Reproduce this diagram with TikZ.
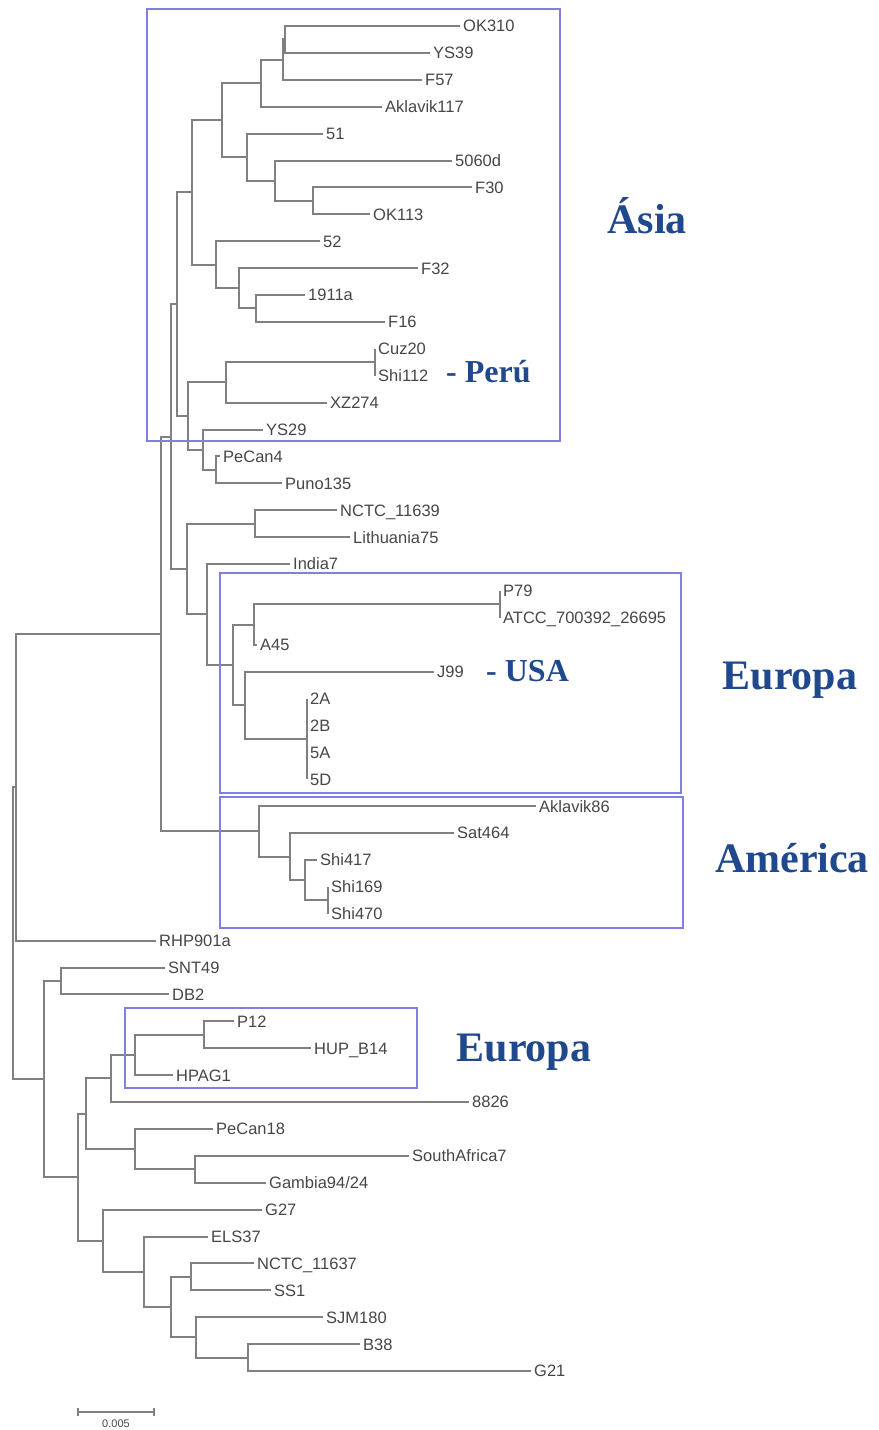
\documentclass[tikz,border=0pt]{standalone}
\usepackage{fontspec}
\setmainfont{Liberation Serif}
\setsansfont{Liberation Sans}
\definecolor{treeGray}{RGB}{128,128,128}
\definecolor{leafText}{RGB}{70,70,70}
\definecolor{cladeBox}{RGB}{128,128,224}
\definecolor{cladeBlue}{RGB}{31,73,140}

\begin{document}
\begin{tikzpicture}[x=1pt, y=-26.9pt,
    br/.style={draw=treeGray, line width=2pt},
    leaf/.style={anchor=west, inner xsep=3pt, inner ysep=0pt, text height=11.8pt, text depth=0pt,
                 font=\sffamily\fontsize{16.5}{16.5}\selectfont, text=leafText},
    region/.style={draw=cladeBox, line width=2pt},
    place/.style={anchor=base, inner sep=0pt, font=\bfseries\fontsize{42}{42}\selectfont, text=cladeBlue},
    country/.style={anchor=base west, inner sep=0pt, font=\bfseries\fontsize{32}{32}\selectfont, text=cladeBlue}
  ]
  \useasboundingbox (0,-0.9665) rectangle (878,52.193);

  % leaves
  \node[leaf] (OK310) at (460,0) {OK310};
  \node[leaf] (YS39) at (430,1) {YS39};
  \node[leaf] (F57) at (422,2) {F57};
  \node[leaf] (Aklavik117) at (382,3) {Aklavik117};
  \node[leaf] (s51) at (323,4) {51};
  \node[leaf] (s5060d) at (452,5) {5060d};
  \node[leaf] (F30) at (472,6) {F30};
  \node[leaf] (OK113) at (370,7) {OK113};
  \node[leaf] (s52) at (320,8) {52};
  \node[leaf] (F32) at (418,9) {F32};
  \node[leaf] (s1911a) at (305,10) {1911a};
  \node[leaf] (F16) at (385,11) {F16};
  \node[leaf] (Cuz20) at (375,12) {Cuz20};
  \node[leaf] (Shi112) at (375,13) {Shi112};
  \node[leaf] (XZ274) at (327,14) {XZ274};
  \node[leaf] (YS29) at (263,15) {YS29};
  \node[leaf] (PeCan4) at (220,16) {PeCan4};
  \node[leaf] (Puno135) at (282,17) {Puno135};
  \node[leaf] (NCTC11639) at (337,18) {NCTC\_11639};
  \node[leaf] (Lithuania75) at (350,19) {Lithuania75};
  \node[leaf] (India7) at (290,20) {India7};
  \node[leaf] (P79) at (500,21) {P79};
  \node[leaf] (ATCC) at (500,22) {ATCC\_700392\_26695};
  \node[leaf] (A45) at (257,23) {A45};
  \node[leaf] (J99) at (434,24) {J99};
  \node[leaf] (s2A) at (307,25) {2A};
  \node[leaf] (s2B) at (307,26) {2B};
  \node[leaf] (s5A) at (307,27) {5A};
  \node[leaf] (s5D) at (307,28) {5D};
  \node[leaf] (Aklavik86) at (536,29) {Aklavik86};
  \node[leaf] (Sat464) at (454,30) {Sat464};
  \node[leaf] (Shi417) at (317,31) {Shi417};
  \node[leaf] (Shi169) at (328,32) {Shi169};
  \node[leaf] (Shi470) at (328,33) {Shi470};
  \node[leaf] (RHP901a) at (156,34) {RHP901a};
  \node[leaf] (SNT49) at (165,35) {SNT49};
  \node[leaf] (DB2) at (169,36) {DB2};
  \node[leaf] (P12) at (234,37) {P12};
  \node[leaf] (HUPB14) at (311,38) {HUP\_B14};
  \node[leaf] (HPAG1) at (173,39) {HPAG1};
  \node[leaf] (s8826) at (469,40) {8826};
  \node[leaf] (PeCan18) at (213,41) {PeCan18};
  \node[leaf] (SouthAfrica7) at (409,42) {SouthAfrica7};
  \node[leaf] (Gambia) at (266,43) {Gambia94/24};
  \node[leaf] (G27) at (262,44) {G27};
  \node[leaf] (ELS37) at (208,45) {ELS37};
  \node[leaf] (NCTC11637) at (254,46) {NCTC\_11637};
  \node[leaf] (SS1) at (271,47) {SS1};
  \node[leaf] (SJM180) at (323,48) {SJM180};
  \node[leaf] (B38) at (360,49) {B38};
  \node[leaf] (G21) at (531,50) {G21};

  % inner nodes
  \coordinate (n1) at (285,0.5);
  \coordinate (n2) at (283,1.25);
  \coordinate (n3) at (261,2.125);
  \coordinate (n4) at (313,6.5);
  \coordinate (n5) at (275,5.75);
  \coordinate (n6) at (247,4.875);
  \coordinate (n7) at (222,3.5);
  \coordinate (n8) at (256,10.5);
  \coordinate (n9) at (239,9.75);
  \coordinate (n10) at (216,8.875);
  \coordinate (n11) at (192,6.1875);
  \coordinate (n12) at (375,12.5);
  \coordinate (n13) at (226,13.25);
  \coordinate (n14) at (216,16.5);
  \coordinate (n15) at (203,15.75);
  \coordinate (n16) at (188,14.5);
  \coordinate (n17) at (177,10.344);
  \coordinate (n18) at (255,18.5);
  \coordinate (n19) at (500,21.5);
  \coordinate (n20) at (254,22.25);
  \coordinate (n21) at (307,26.5);
  \coordinate (n22) at (245,25.25);
  \coordinate (n23) at (233,23.75);
  \coordinate (n24) at (207,21.875);
  \coordinate (n25) at (187,20.1875);
  \coordinate (n26) at (171,15.266);
  \coordinate (n27) at (328,32.5);
  \coordinate (n28) at (305,31.75);
  \coordinate (n29) at (290,30.875);
  \coordinate (n30) at (259,29.9375);
  \coordinate (n31) at (161,22.602);
  \coordinate (n32) at (16,28.301);
  \coordinate (n33) at (61,35.5);
  \coordinate (n34) at (204,37.5);
  \coordinate (n35) at (135,38.25);
  \coordinate (n36) at (111,39.125);
  \coordinate (n37) at (195,42.5);
  \coordinate (n38) at (135,41.75);
  \coordinate (n39) at (86,40.4375);
  \coordinate (n40) at (191,46.5);
  \coordinate (n41) at (248,49.5);
  \coordinate (n42) at (196,48.75);
  \coordinate (n43) at (171,47.625);
  \coordinate (n44) at (144,46.3125);
  \coordinate (n45) at (103,45.156);
  \coordinate (n46) at (78,42.797);
  \coordinate (n47) at (44,39.148);
  \coordinate (n48) at (13,33.725);

  % branches
  \draw[br] (n1) |- (OK310) (n1) |- (YS39);
  \draw[br] (n2) |- (n1) (n2) |- (F57);
  \draw[br] (n3) |- (n2) (n3) |- (Aklavik117);
  \draw[br] (n4) |- (F30) (n4) |- (OK113);
  \draw[br] (n5) |- (s5060d) (n5) |- (n4);
  \draw[br] (n6) |- (s51) (n6) |- (n5);
  \draw[br] (n7) |- (n3) (n7) |- (n6);
  \draw[br] (n8) |- (s1911a) (n8) |- (F16);
  \draw[br] (n9) |- (F32) (n9) |- (n8);
  \draw[br] (n10) |- (s52) (n10) |- (n9);
  \draw[br] (n11) |- (n7) (n11) |- (n10);
  \draw[br] (n12) |- (Cuz20) (n12) |- (Shi112);
  \draw[br] (n13) |- (n12) (n13) |- (XZ274);
  \draw[br] (n14) |- (PeCan4) (n14) |- (Puno135);
  \draw[br] (n15) |- (YS29) (n15) |- (n14);
  \draw[br] (n16) |- (n13) (n16) |- (n15);
  \draw[br] (n17) |- (n11) (n17) |- (n16);
  \draw[br] (n18) |- (NCTC11639) (n18) |- (Lithuania75);
  \draw[br] (n19) |- (P79) (n19) |- (ATCC);
  \draw[br] (n20) |- (n19) (n20) |- (A45);
  \draw[br] (n21) |- (s2A) (n21) |- (s2B) (n21) |- (s5A) (n21) |- (s5D);
  \draw[br] (n22) |- (J99) (n22) |- (n21);
  \draw[br] (n23) |- (n20) (n23) |- (n22);
  \draw[br] (n24) |- (India7) (n24) |- (n23);
  \draw[br] (n25) |- (n18) (n25) |- (n24);
  \draw[br] (n26) |- (n17) (n26) |- (n25);
  \draw[br] (n27) |- (Shi169) (n27) |- (Shi470);
  \draw[br] (n28) |- (Shi417) (n28) |- (n27);
  \draw[br] (n29) |- (Sat464) (n29) |- (n28);
  \draw[br] (n30) |- (Aklavik86) (n30) |- (n29);
  \draw[br] (n31) |- (n26) (n31) |- (n30);
  \draw[br] (n32) |- (n31) (n32) |- (RHP901a);
  \draw[br] (n33) |- (SNT49) (n33) |- (DB2);
  \draw[br] (n34) |- (P12) (n34) |- (HUPB14);
  \draw[br] (n35) |- (n34) (n35) |- (HPAG1);
  \draw[br] (n36) |- (n35) (n36) |- (s8826);
  \draw[br] (n37) |- (SouthAfrica7) (n37) |- (Gambia);
  \draw[br] (n38) |- (PeCan18) (n38) |- (n37);
  \draw[br] (n39) |- (n36) (n39) |- (n38);
  \draw[br] (n40) |- (NCTC11637) (n40) |- (SS1);
  \draw[br] (n41) |- (B38) (n41) |- (G21);
  \draw[br] (n42) |- (SJM180) (n42) |- (n41);
  \draw[br] (n43) |- (n40) (n43) |- (n42);
  \draw[br] (n44) |- (ELS37) (n44) |- (n43);
  \draw[br] (n45) |- (G27) (n45) |- (n44);
  \draw[br] (n46) |- (n39) (n46) |- (n45);
  \draw[br] (n47) |- (n33) (n47) |- (n46);
  \draw[br] (n48) |- (n32) (n48) |- (n47);

  % clade boxes
  \draw[region] (147,-0.632) rectangle (560,15.43);
  \draw[region] (220,20.33) rectangle (681,28.51);
  \draw[region] (220,28.66) rectangle (683,33.53);
  \draw[region] (125,36.51) rectangle (417,39.48);

  \node[place] (asia) at (647,7.695) {Ásia};
  \node[place] (europa1) at (790,24.65) {Europa};
  \node[place] (america) at (792,31.45) {América};
  \node[place] (europa2) at (524,38.51) {Europa};
  \node[country] (peru) at (446,13.27) {- Perú};
  \node[country] (usa) at (486,24.35) {- USA};

  % scale bar
  \coordinate (barL) at (78,51.52);
  \coordinate (barR) at (154,51.52);
  \draw[br, line width=1.5pt] (barL) -- (barR);
  \draw[br, line width=1.5pt] ([yshift=4pt]barL) -- ([yshift=-4pt]barL);
  \draw[br, line width=1.5pt] ([yshift=4pt]barR) -- ([yshift=-4pt]barR);
  \node[anchor=north, inner sep=0pt, font=\sffamily\fontsize{11}{11}\selectfont, text=leafText]
    (barlabel) at (116,51.82) {0.005};
\end{tikzpicture}
\end{document}
